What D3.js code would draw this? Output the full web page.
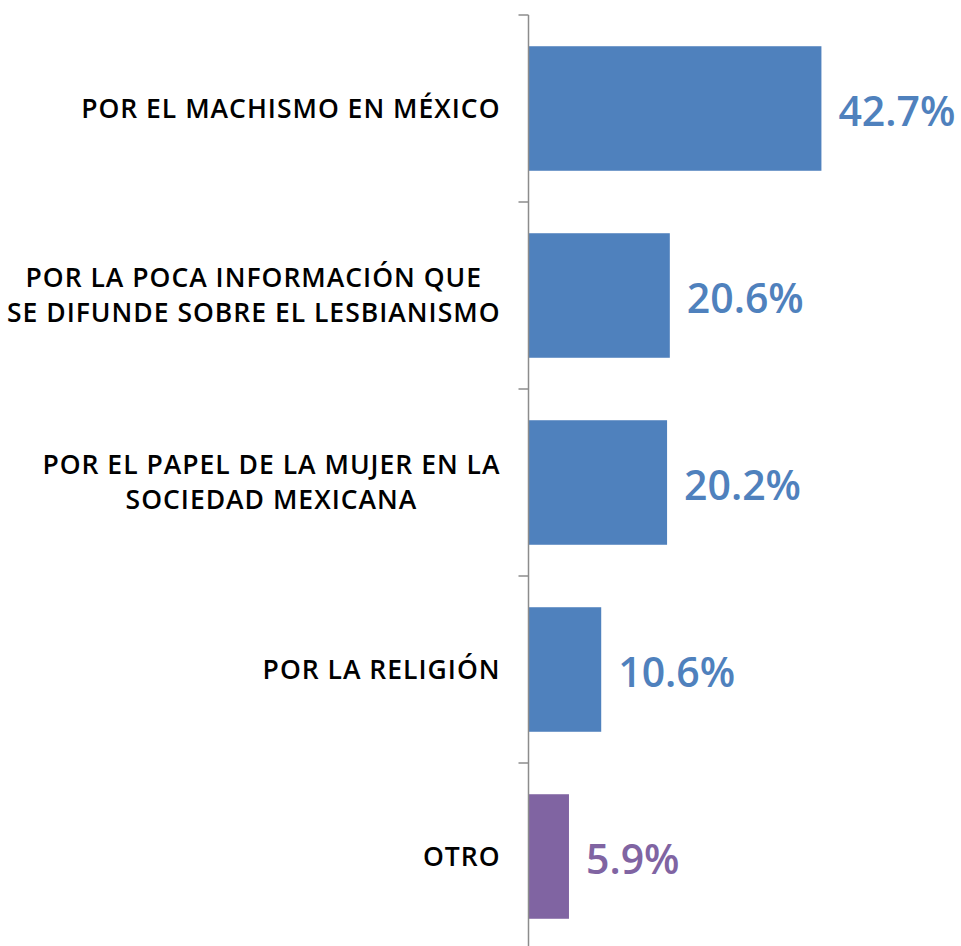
<!DOCTYPE html>
<html>
<head>
<meta charset="utf-8">
<script src="https://cdn.jsdelivr.net/npm/d3@7/dist/d3.min.js"></script>
<style>
  html, body { margin: 0; padding: 0; background: #fff; }
  svg { display: block; }
</style>
</head>
<body>
<svg id="chart" width="961" height="946"></svg>
<script>
const categories = [
  "POR EL MACHISMO EN MÉXICO",
  "POR LA POCA INFORMACIÓN QUE\nSE DIFUNDE SOBRE EL LESBIANISMO",
  "POR EL PAPEL DE LA MUJER EN LA\nSOCIEDAD MEXICANA",
  "POR LA RELIGIÓN",
  "OTRO"
];
const values = [42.7, 20.6, 20.2, 10.6, 5.9];
const colors = ["#4f81bd", "#4f81bd", "#4f81bd", "#4f81bd", "#8064a2"];

const svg = d3.select("#chart");
const axisX = 528.5;

const y = d3.scaleBand()
  .domain(categories)
  .range([15, 950])
  .paddingInner(0.334)
  .paddingOuter(0.167);

const x = d3.scaleLinear()
  .domain([0, 50])
  .range([axisX, axisX + 343]);

// bars
svg.append("g")
  .selectAll("rect")
  .data(categories)
  .join("rect")
  .attr("x", axisX)
  .attr("y", d => y(d))
  .attr("width", (d, i) => x(values[i]) - axisX)
  .attr("height", y.bandwidth())
  .attr("fill", (d, i) => colors[i]);

// axis line and ticks between categories
const gAxis = svg.append("g").attr("stroke", "#8c8c8c").attr("stroke-width", 1.5);
gAxis.append("line")
  .attr("x1", axisX).attr("x2", axisX)
  .attr("y1", y.range()[0]).attr("y2", y.range()[1]);
gAxis.selectAll("line.tick")
  .data(d3.range(categories.length + 1))
  .join("line")
  .attr("class", "tick")
  .attr("x1", axisX - 10).attr("x2", axisX)
  .attr("y1", i => y.range()[0] + i * y.step())
  .attr("y2", i => y.range()[0] + i * y.step());

// category labels: each block is right-aligned, its lines centred within it
const lineH = 35;
const labelRight = axisX - 28;
svg.append("g")
  .selectAll("text")
  .data(categories)
  .join("text")
  .attr("text-anchor", "middle")
  .attr("font-family", "'Open Sans', sans-serif")
  .attr("font-weight", 600)
  .attr("font-size", 26.5)
  .attr("letter-spacing", 1)
  .attr("fill", "#000")
  .each(function (d) {
    const el = d3.select(this);
    const lines = d.split("\n");
    const cy = y(d) + y.bandwidth() / 2;
    const top = cy - (lines.length - 1) * lineH / 2 + 9;
    const spans = el.selectAll("tspan")
      .data(lines)
      .join("tspan")
      .attr("y", (l, j) => top + j * lineH)
      .text(l => l);
    let maxW = 0;
    spans.each(function () { maxW = Math.max(maxW, this.getComputedTextLength()); });
    spans.attr("x", labelRight - maxW / 2);
  });

// value labels
svg.append("g")
  .selectAll("text")
  .data(categories)
  .join("text")
  .attr("x", (d, i) => x(values[i]) + 17)
  .attr("y", d => y(d) + y.bandwidth() / 2 + 17)
  .attr("font-family", "'Open Sans', sans-serif")
  .attr("font-weight", 600)
  .attr("font-size", 41)
  .attr("fill", (d, i) => colors[i])
  .text((d, i) => values[i].toFixed(1) + "%");
</script>
</body>
</html>
